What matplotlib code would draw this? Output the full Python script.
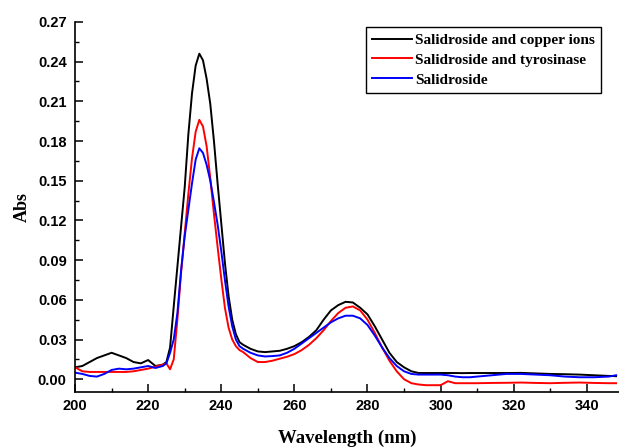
import matplotlib
matplotlib.use("Agg")
import matplotlib.pyplot as plt
from matplotlib.ticker import MultipleLocator, FormatStrFormatter

wavelength = [200, 202, 204, 206, 208, 210, 212, 214, 216, 218, 220, 222, 224, 225,
              226, 227, 228, 229, 230, 231, 232, 233, 234, 235, 236, 237, 238, 239,
              240, 241, 242, 243, 244, 245, 246, 248, 250, 252, 254, 256, 258, 260,
              262, 264, 266, 268, 270, 272, 274, 276, 278, 280, 282, 284, 286, 288,
              290, 292, 294, 296, 298, 300, 302, 304, 306, 308, 310, 314, 318, 322,
              326, 330, 334, 338, 342, 346, 348]

copper = [0.009, 0.010, 0.013, 0.016, 0.018, 0.020, 0.018, 0.016, 0.013, 0.012, 0.0145, 0.010, 0.011, 0.013,
          0.024, 0.055, 0.085, 0.115, 0.145, 0.185, 0.216, 0.237, 0.246, 0.241, 0.227, 0.208, 0.180, 0.148,
          0.118, 0.088, 0.063, 0.045, 0.034, 0.028, 0.026, 0.023, 0.021, 0.0205, 0.021, 0.0215, 0.023, 0.025,
          0.028, 0.032, 0.037, 0.045, 0.052, 0.056, 0.0585, 0.058, 0.054, 0.049, 0.040, 0.030, 0.020, 0.013,
          0.009, 0.006, 0.0047, 0.0047, 0.0047, 0.0047, 0.0047, 0.0047, 0.0046, 0.0047, 0.0047, 0.0047, 0.0047, 0.0048,
          0.0044, 0.004, 0.0038, 0.0035, 0.003, 0.0025, 0.0023]

tyrosinase = [0.009, 0.006, 0.0055, 0.0055, 0.0055, 0.0055, 0.0055, 0.0055, 0.006, 0.007, 0.008, 0.0095, 0.011, 0.012,
              0.0075, 0.015, 0.045, 0.080, 0.110, 0.140, 0.167, 0.187, 0.196, 0.191, 0.176, 0.152, 0.125, 0.100,
              0.076, 0.054, 0.039, 0.030, 0.025, 0.022, 0.0205, 0.016, 0.013, 0.013, 0.014, 0.0155, 0.017, 0.019,
              0.022, 0.026, 0.031, 0.037, 0.044, 0.050, 0.054, 0.055, 0.052, 0.045, 0.035, 0.024, 0.014, 0.006,
              0.000, -0.003, -0.004, -0.0045, -0.0045, -0.0045, -0.0015, -0.003, -0.003, -0.003, -0.003, -0.0028, -0.0027, -0.0025,
              -0.0028, -0.003, -0.0027, -0.0025, -0.0028, -0.003, -0.003]

salidroside = [0.005, 0.004, 0.0025, 0.002, 0.004, 0.007, 0.008, 0.0075, 0.008, 0.009, 0.010, 0.0085, 0.010, 0.012,
               0.020, 0.030, 0.050, 0.082, 0.108, 0.128, 0.148, 0.166, 0.1745, 0.171, 0.162, 0.150, 0.134, 0.117,
               0.097, 0.075, 0.055, 0.040, 0.030, 0.025, 0.023, 0.020, 0.018, 0.0172, 0.0175, 0.018, 0.020, 0.023,
               0.027, 0.031, 0.035, 0.039, 0.043, 0.046, 0.048, 0.048, 0.046, 0.041, 0.033, 0.024, 0.016, 0.010,
               0.006, 0.004, 0.0035, 0.0035, 0.0035, 0.0035, 0.003, 0.002, 0.0015, 0.0015, 0.002, 0.003, 0.004, 0.004,
               0.0035, 0.003, 0.002, 0.0015, 0.0015, 0.002, 0.003]

labels = ["Salidroside and copper ions", "Salidroside and tyrosinase", "Salidroside"]
colors = ["#000000", "#ff0000", "#0000ff"]

fig = plt.figure(figsize=(6.19, 4.47), dpi=100)
ax = fig.add_axes([0.1212, 0.122, 1.0 - 0.1212, 0.951 - 0.122])

for ys, lab, col in zip([copper, tyrosinase, salidroside], labels, colors):
    ax.plot(wavelength, ys, color=col, lw=1.4, label=lab)

ax.set_xlim(200, 348.8)
ax.set_ylim(-0.01, 0.27)
ax.xaxis.set_major_locator(MultipleLocator(20))
ax.xaxis.set_minor_locator(MultipleLocator(10))
ax.yaxis.set_major_locator(MultipleLocator(0.03))
ax.yaxis.set_minor_locator(MultipleLocator(0.015))
ax.yaxis.set_major_formatter(FormatStrFormatter("%.2f"))

ax.spines["top"].set_visible(False)
ax.spines["right"].set_visible(False)
for s in ["left", "bottom"]:
    ax.spines[s].set_linewidth(1.2)

ax.tick_params(which="major", direction="in", length=6, width=1.1, labelsize=10.5, pad=6)
ax.tick_params(which="minor", direction="in", length=3, width=1.0)
ax.tick_params(axis="x", which="major", pad=5)
for t in ax.get_xticklabels() + ax.get_yticklabels():
    t.set_fontfamily("Liberation Sans")
    t.set_fontweight("bold")

ax.set_xlabel("Wavelength (nm)", fontfamily="Liberation Serif", fontweight="bold", fontsize=13.5, labelpad=12)
ax.set_ylabel("Abs", fontfamily="Liberation Serif", fontweight="bold", fontsize=13, labelpad=5)

leg = ax.legend(loc="upper right", bbox_to_anchor=(0.967, 0.986), borderaxespad=0,
                prop={"family": "Liberation Serif", "weight": "bold", "size": 11},
                frameon=True, fancybox=False, framealpha=1, edgecolor="black",
                handlelength=2.6, handletextpad=0.2, labelspacing=0.4, borderpad=0.4)
leg.get_frame().set_linewidth(1.0)

fig.savefig("out.png", dpi=100)
